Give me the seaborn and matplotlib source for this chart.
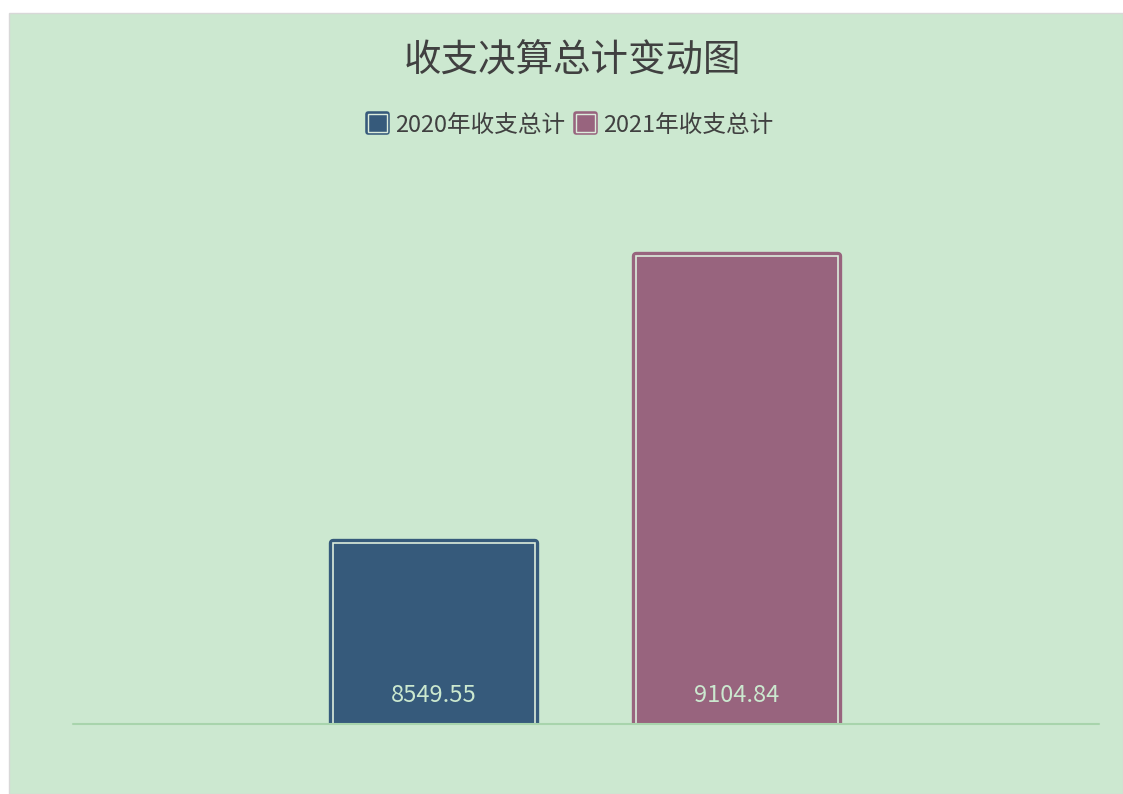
import pandas as pd
import matplotlib.pyplot as plt
import matplotlib.patheffects as pe
from matplotlib.patches import Patch, Rectangle
import seaborn as sns

# Data
series = ['2020年收支总计', '2021年收支总计']
values = [8549.55, 9104.84]
colors = ['#365a7b', '#98647e']

df = pd.DataFrame({'series': series, 'value': values})

sns.set_style('white')
plt.rcParams['font.family'] = ['Noto Sans CJK SC', 'DejaVu Sans']

bg = '#cce8d0'
text_color = '#404040'

fig = plt.figure(figsize=(11.23, 7.94), dpi=100, facecolor='white')
# green panel
fig.patches.append(Rectangle((9 / 1123, 0), 1 - 9 / 1123, 1 - 13 / 794,
                             transform=fig.transFigure, facecolor=bg,
                             edgecolor='#d8d8d8', linewidth=1, zorder=-10))

ax = fig.add_axes([73 / 1123, 70 / 794, 1026 / 1123, 564 / 794])
ax.set_facecolor('none')
ax.set_zorder(1)

sns.barplot(data=df, x='series', y='value', hue='series', palette=colors,
            saturation=1, width=0.667, legend=False, ax=ax)

for patch, c in zip(ax.patches, colors):
    patch.set_edgecolor('#dcecdc')
    patch.set_linewidth(1.2)
    patch.set_path_effects([pe.Stroke(linewidth=6, foreground=c, joinstyle='round'),
                            pe.Normal()])

ax.set_xlim(-1.191, 2.195)
ax.set_ylim(8199.3, 9290.6)

# value labels near the bottom of each bar
for i, v in enumerate(values):
    ax.text(i, 0.05, f'{v:.2f}', transform=ax.get_xaxis_transform(),
            ha='center', va='center', fontsize=17, color='#cbe8cf')

# baseline
ax.axhline(8199.3, color='#a8d4ac', linewidth=1.5, zorder=5, clip_on=False)

for s in ax.spines.values():
    s.set_visible(False)
ax.set_xticks([])
ax.set_yticks([])
ax.set_xlabel('')
ax.set_ylabel('')

fig.text(572 / 1123, 1 - 61 / 794, '收支决算总计变动图', ha='center', va='center',
         fontsize=27, color=text_color)

handles = [Patch(facecolor=c, edgecolor='#dcecdc', linewidth=1.0,
                 path_effects=[pe.Stroke(linewidth=4, foreground=c, joinstyle='round'),
                               pe.Normal()])
           for c in colors]
leg = fig.legend(handles, series, loc='center', bbox_to_anchor=(571 / 1123, 1 - 125 / 794),
                 ncol=2, frameon=False, fontsize=17, labelcolor=text_color,
                 handlelength=0.8, handleheight=0.8, handletextpad=0.35, columnspacing=0.45)
leg.set_zorder(2)

plt.savefig('out.png', dpi=100, facecolor='white')
